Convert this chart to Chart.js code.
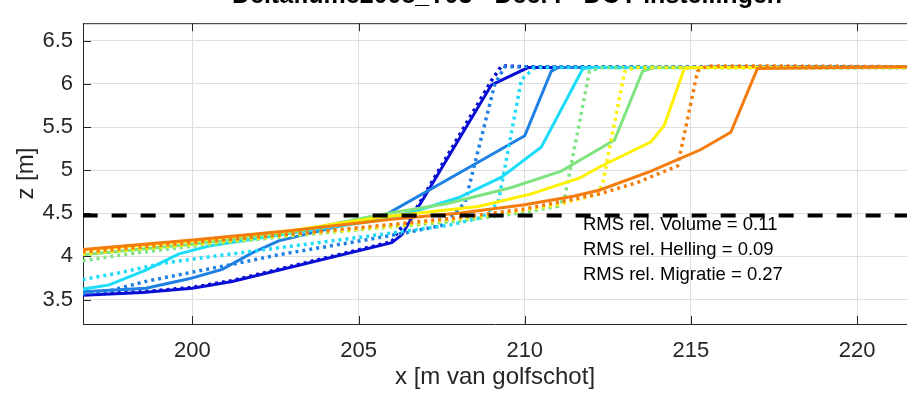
<!DOCTYPE html>
<html>
<head>
<meta charset="utf-8">
<script src="https://cdn.jsdelivr.net/npm/chart.js@4.4.0/dist/chart.umd.min.js"></script>
<style>
  body { margin: 0; background: #fff; }
  #profiel { display: block; }
</style>
</head>
<body>
<canvas id="profiel" width="907" height="398"></canvas>
<script>
// profielen: x [m van golfschot], z [m]
const xDonkerblauw = [196.7, 198.5, 200, 201.2, 206.0, 206.3, 209.0, 210.1, 221.5];
const zDonkerblauw = [3.55, 3.58, 3.63, 3.71, 4.16, 4.25, 5.99, 6.19, 6.19];
const xDonkerblauwStip = [196.7, 198.5, 200, 201.2, 206.0, 206.2, 206.5, 209.0, 209.3, 210.0, 221.5];
const zDonkerblauwStip = [3.56, 3.59, 3.64, 3.72, 4.17, 4.30, 4.40, 6.04, 6.21, 6.20, 6.20];

const xBlauw = [196.7, 198.6, 199.9, 200.9, 201.8, 202.6, 205.8, 210.0, 210.8, 211.0, 221.5];
const zBlauw = [3.59, 3.63, 3.74, 3.85, 4.04, 4.18, 4.48, 5.40, 6.15, 6.19, 6.19];
const xBlauwStip = [196.7, 197.6, 198.6, 199.9, 201.1, 202.6, 205.2, 206.5, 207.5, 208.2, 209.1, 209.4, 221.5];
const zBlauwStip = [3.57, 3.61, 3.71, 3.81, 3.90, 4.02, 4.19, 4.28, 4.36, 4.62, 6.00, 6.20, 6.19];

const xCyaan = [196.7, 197.5, 198.6, 199.6, 200.5, 203, 205.6, 206.5, 208.0, 209.3, 210.5, 211.75, 212.1, 221.5];
const zCyaan = [3.62, 3.67, 3.84, 4.03, 4.12, 4.27, 4.42, 4.50, 4.68, 4.92, 5.27, 6.18, 6.19, 6.19];
const xCyaanStip = [196.7, 197.8, 199.1, 200.6, 202.6, 205.0, 207.7, 208.7, 209.2, 209.9, 210.3, 221.5];
const zCyaanStip = [3.73, 3.81, 3.92, 4.00, 4.10, 4.22, 4.36, 4.45, 4.62, 6.05, 6.19, 6.19];

const xGroen = [196.7, 200, 203, 205.6, 207.65, 209.6, 211.1, 212.7, 213.55, 213.9, 221.5];
const zGroen = [4.02, 4.14, 4.28, 4.48, 4.61, 4.80, 4.99, 5.35, 6.15, 6.19, 6.19];
const xGroenStip = [196.7, 198.1, 199.6, 202, 205, 208, 210, 211.0, 211.2, 211.95, 212.3, 221.5];
const zGroenStip = [3.95, 4.03, 4.10, 4.20, 4.31, 4.41, 4.51, 4.58, 4.68, 6.15, 6.19, 6.19];

const xGeel = [196.7, 200, 203, 205.6, 208.6, 210.15, 211.66, 212.26, 213.8, 214.2, 214.8, 215.1, 221.5];
const zGeel = [4.07, 4.18, 4.30, 4.45, 4.58, 4.72, 4.91, 5.04, 5.33, 5.52, 6.18, 6.19, 6.19];
const xGeelStip = [196.7, 200, 203, 206, 209, 211, 212.2, 212.35, 213.0, 213.3, 221.5];
const zGeelStip = [4.03, 4.14, 4.25, 4.35, 4.48, 4.60, 4.72, 4.85, 6.14, 6.19, 6.19];

const xOranje = [196.7, 200, 203, 206, 208, 210, 211.5, 212.26, 213.8, 215.3, 216.2, 217.0, 221.5];
const zOranje = [4.08, 4.19, 4.30, 4.43, 4.50, 4.60, 4.70, 4.77, 4.99, 5.24, 5.44, 6.18, 6.20];
const xOranjeStip = [196.7, 200, 203, 206, 208, 210, 212.3, 213.4, 214.6, 215.2, 215.5, 217, 221.5];
const zOranjeStip = [4.05, 4.16, 4.26, 4.37, 4.45, 4.55, 4.73, 4.86, 5.05, 6.15, 6.21, 6.21, 6.20];

// referentieniveau en assen
const zNiveau = 4.475;
const xTicks = [200, 205, 210, 215, 220];
const zTicks = [3.5, 4, 4.5, 5, 5.5, 6, 6.5];
const rmsTeksten = ["RMS rel. Volume = 0.11", "RMS rel. Helling = 0.09", "RMS rel. Migratie = 0.27"];
const titel = "Deltaflume2008_T03 - Deel I - DOT instellingen";

const lijnen = [
  [xDonkerblauw, zDonkerblauw, "#0a0fd6", false],
  [xDonkerblauwStip, zDonkerblauwStip, "#0a0fd6", true],
  [xBlauw, zBlauw, "#1f80e3", false],
  [xBlauwStip, zBlauwStip, "#1f80e3", true],
  [xCyaan, zCyaan, "#1cdcf9", false],
  [xCyaanStip, zCyaanStip, "#1cdcf9", true],
  [xGroen, zGroen, "#7fe37f", false],
  [xGroenStip, zGroenStip, "#7fe37f", true],
  [xGeel, zGeel, "#fff000", false],
  [xGeelStip, zGeelStip, "#fff000", true],
  [xOranje, zOranje, "#f47c0c", false],
  [xOranjeStip, zOranjeStip, "#f47c0c", true]
];

const fontFam = "'Liberation Sans', Arial, sans-serif";
const asKleur = "#262626";

const datasets = lijnen.map(([xs, zs, kleur, stip], i) => ({
  data: xs.map((x, j) => ({ x: x, y: zs[j] })),
  borderColor: kleur,
  borderWidth: stip ? 3.5 : 3,
  borderDash: stip ? [3, 4] : [],
  pointRadius: 0,
  tension: 0,
  fill: false,
  order: lijnen.length - i
}));

// zwarte stippellijn bovenop
datasets.push({
  data: [{ x: 196.7, y: zNiveau }, { x: 221.5, y: zNiveau }],
  borderColor: "#000",
  borderWidth: 4,
  borderDash: [15, 14],
  pointRadius: 0,
  order: 0
});

// kader, ticks naar binnen, titel en tekst
const extras = {
  id: "extras",
  beforeDatasetsDraw(chart) {
    const { ctx, chartArea: a, scales } = chart;
    ctx.save();
    ctx.strokeStyle = asKleur;
    ctx.lineWidth = 1;
    ctx.beginPath();
    ctx.moveTo(a.left, a.top + 0.5);
    ctx.lineTo(a.right, a.top + 0.5);
    xTicks.forEach(v => {
      const px = Math.round(scales.x.getPixelForValue(v)) + 0.5;
      ctx.moveTo(px, a.bottom);
      ctx.lineTo(px, a.bottom - 8);
      ctx.moveTo(px, a.top);
      ctx.lineTo(px, a.top + 8);
    });
    zTicks.forEach(v => {
      const py = Math.round(scales.y.getPixelForValue(v)) + 0.5;
      ctx.moveTo(a.left, py);
      ctx.lineTo(a.left + 8, py);
    });
    ctx.stroke();
    ctx.restore();
  },
  afterDraw(chart) {
    const { ctx, scales } = chart;
    ctx.save();
    ctx.fillStyle = "#000";
    ctx.font = "bold 25px " + fontFam;
    ctx.textAlign = "center";
    ctx.textBaseline = "alphabetic";
    ctx.fillText(titel, 507, 2.5);

    ctx.font = "18.5px " + fontFam;
    ctx.textAlign = "left";
    ctx.textBaseline = "middle";
    const tx = scales.x.getPixelForValue(211.75);
    const ty = [4.365, 4.07, 3.785];
    rmsTeksten.forEach((t, i) => {
      ctx.fillText(t, tx, scales.y.getPixelForValue(ty[i]));
    });
    ctx.restore();
  }
};

new Chart(document.getElementById("profiel"), {
  type: "line",
  data: { datasets },
  options: {
    responsive: false,
    animation: false,
    devicePixelRatio: 1,
    layout: { padding: { top: 7, left: 0, right: 0, bottom: 0 } },
    plugins: { legend: { display: false }, tooltip: { enabled: false } },
    scales: {
      x: {
        type: "linear",
        min: 196.71,
        max: 221.5,
        afterBuildTicks: s => { s.ticks = xTicks.map(v => ({ value: v })); },
        afterFit: s => { s.height = 74; },
        grid: { color: "#dedede", drawTicks: false },
        border: { display: true, color: asKleur, width: 1 },
        ticks: { color: asKleur, padding: 14, maxRotation: 0, font: { family: fontFam, size: 22 } },
        title: {
          display: true,
          text: "x [m van golfschot]",
          color: asKleur,
          font: { family: fontFam, size: 24 },
          padding: { top: 0, bottom: 6 }
        }
      },
      y: {
        min: 3.216,
        max: 6.705,
        afterBuildTicks: s => { s.ticks = zTicks.map(v => ({ value: v })); },
        afterFit: s => { s.width = 83; },
        grid: { color: "#dedede", drawTicks: false },
        border: { display: true, color: asKleur, width: 1 },
        ticks: {
          color: asKleur,
          padding: 10,
          font: { family: fontFam, size: 22 },
          callback: v => String(v)
        },
        title: {
          display: true,
          text: "z [m]",
          color: asKleur,
          font: { family: fontFam, size: 24 },
          padding: { top: 12, bottom: 0 }
        }
      }
    }
  },
  plugins: [extras]
});
</script>
</body>
</html>
